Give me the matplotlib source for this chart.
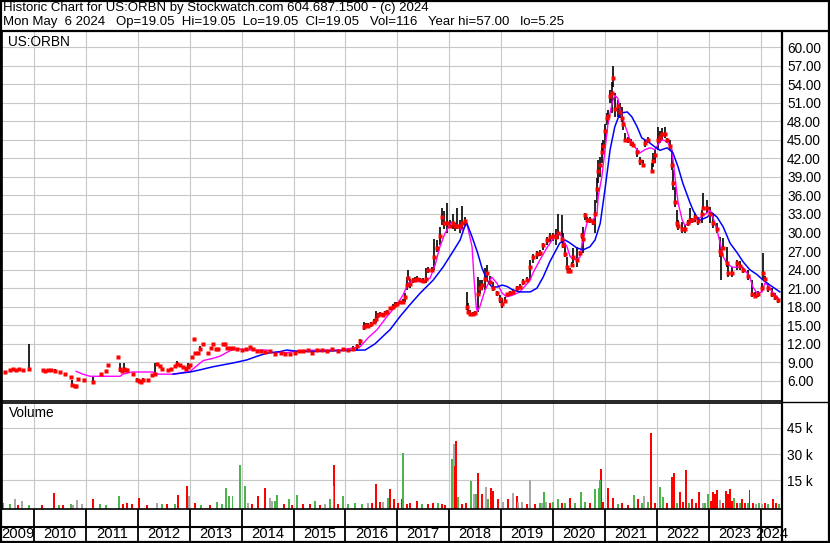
import numpy as np
import matplotlib
matplotlib.use("Agg")
import matplotlib.pyplot as plt
from matplotlib.lines import Line2D


# price bars (decimal year, low, high, close)
price_dates = [
    2009.44, 2009.54, 2009.60, 2009.65, 2009.71, 2009.79, 2009.90, 2010.17, 2010.22, 2010.27,
    2010.33, 2010.40, 2010.50, 2010.60, 2010.71, 2010.73, 2010.78, 2010.81, 2010.85, 2010.96,
    2011.14, 2011.29, 2011.39, 2011.43, 2011.62, 2011.66, 2011.70, 2011.73, 2011.77, 2011.80,
    2011.91, 2011.98, 2012.02, 2012.06, 2012.10, 2012.20, 2012.27, 2012.33, 2012.36, 2012.43,
    2012.47, 2012.58, 2012.64, 2012.72, 2012.76, 2012.81, 2012.87, 2012.93, 2012.97, 2013.00,
    2013.04, 2013.08, 2013.10, 2013.15, 2013.20, 2013.26, 2013.35, 2013.41, 2013.45, 2013.50,
    2013.55, 2013.64, 2013.68, 2013.72, 2013.78, 2013.83, 2013.91, 2014.00, 2014.08, 2014.16,
    2014.22, 2014.30, 2014.38, 2014.45, 2014.55, 2014.65, 2014.75, 2014.84, 2014.93, 2015.02,
    2015.10, 2015.18, 2015.28, 2015.36, 2015.45, 2015.55, 2015.65, 2015.75, 2015.85, 2015.95,
    2016.05, 2016.15, 2016.22, 2016.28, 2016.36, 2016.40, 2016.44, 2016.49, 2016.55, 2016.59,
    2016.63, 2016.67, 2016.72, 2016.76, 2016.81, 2016.86, 2016.91, 2016.96, 2017.00, 2017.05,
    2017.10, 2017.15, 2017.19, 2017.21, 2017.25, 2017.30, 2017.34, 2017.38, 2017.43, 2017.50,
    2017.55, 2017.60, 2017.66, 2017.71, 2017.76, 2017.82, 2017.86, 2017.90, 2017.95, 2018.02,
    2018.07, 2018.12, 2018.15, 2018.21, 2018.25, 2018.30, 2018.34, 2018.36, 2018.40, 2018.45,
    2018.50, 2018.55, 2018.59, 2018.63, 2018.69, 2018.73, 2018.79, 2018.84, 2018.92, 2018.98,
    2019.02, 2019.07, 2019.11, 2019.17, 2019.23, 2019.30, 2019.36, 2019.42, 2019.50, 2019.56,
    2019.61, 2019.69, 2019.75, 2019.81, 2019.88, 2019.94, 2020.00, 2020.05, 2020.10, 2020.17,
    2020.19, 2020.23, 2020.27, 2020.29, 2020.33, 2020.37, 2020.39, 2020.46, 2020.52, 2020.56,
    2020.58, 2020.62, 2020.66, 2020.71, 2020.77, 2020.81, 2020.85, 2020.87, 2020.91, 2020.94,
    2020.96, 2021.00, 2021.04, 2021.06, 2021.10, 2021.14, 2021.16, 2021.19, 2021.25, 2021.29,
    2021.33, 2021.35, 2021.39, 2021.45, 2021.50, 2021.54, 2021.62, 2021.68, 2021.73, 2021.77,
    2021.83, 2021.91, 2021.93, 2021.97, 2022.02, 2022.06, 2022.10, 2022.16, 2022.20, 2022.25,
    2022.29, 2022.31, 2022.35, 2022.39, 2022.41, 2022.49, 2022.54, 2022.60, 2022.64, 2022.68,
    2022.74, 2022.79, 2022.87, 2022.89, 2022.97, 2023.03, 2023.08, 2023.16, 2023.22, 2023.24,
    2023.28, 2023.35, 2023.37, 2023.45, 2023.55, 2023.60, 2023.66, 2023.76, 2023.83, 2023.89,
    2023.95, 2024.03, 2024.05, 2024.08, 2024.14, 2024.22, 2024.28, 2024.34,
]

price_low = [
    7.3, 7.6, 7.8, 7.7, 7.8, 7.7, 7.9, 7.7, 7.5, 7.7,
    7.7, 7.3, 7.3, 6.9, 6.4, 5.2, 5.1, 5.1, 6.1, 6.1,
    5.9, 7.0, 7.5, 8.5, 9.7, 7.5, 7.4, 7.5, 7.6, 7.5,
    7.1, 5.9, 5.7, 5.8, 5.8, 6.0, 6.9, 7.0, 8.4, 8.4,
    7.8, 7.6, 7.9, 8.3, 8.7, 8.5, 8.2, 7.9, 8.0, 8.5,
    9.6, 12.8, 10.4, 10.4, 10.9, 11.8, 10.4, 11.2, 11.9, 11.0,
    11.0, 11.9, 11.9, 11.2, 11.2, 11.3, 11.0, 10.9, 11.0, 11.4,
    11.0, 10.7, 10.7, 10.6, 10.8, 10.2, 10.4, 10.3, 10.2, 10.5,
    10.5, 10.6, 10.8, 10.4, 10.8, 10.9, 10.7, 10.8, 10.6, 10.9,
    10.7, 10.9, 11.0, 11.8, 14.3, 14.6, 14.7, 14.8, 15.2, 15.4,
    16.2, 16.5, 16.4, 16.7, 16.8, 17.4, 17.6, 18.0, 18.2, 18.4,
    18.5, 18.7, 20.7, 22.3, 21.0, 21.8, 22.0, 22.2, 22.0, 21.8,
    21.8, 23.5, 23.6, 24.0, 26.8, 28.0, 31.2, 30.5, 30.0, 30.8,
    30.5, 30.2, 30.5, 30.0, 30.5, 31.0, 17.5, 17.0, 16.7, 16.6,
    16.7, 17.2, 20.0, 20.7, 20.7, 22.3, 21.5, 20.5, 19.8, 18.6,
    17.8, 18.6, 19.6, 19.8, 20.0, 20.5, 20.8, 21.5, 22.0, 22.3,
    25.0, 25.8, 26.2, 27.2, 28.0, 28.5, 28.6, 28.0, 29.0, 28.3,
    27.5, 26.0, 24.0, 23.6, 23.5, 24.5, 25.0, 24.4, 26.2, 29.0,
    26.7, 32.0, 31.7, 31.5, 31.2, 30.0, 34.8, 38.0, 39.0, 41.2,
    42.9, 44.0, 47.4, 47.5, 50.9, 49.3, 53.5, 48.7, 48.7, 48.5,
    47.9, 46.6, 44.6, 44.5, 44.0, 43.8, 42.2, 40.9, 40.6, 43.8,
    44.5, 39.6, 40.6, 41.2, 43.4, 44.5, 45.0, 45.3, 44.5, 43.4,
    40.1, 36.9, 34.1, 30.9, 30.4, 30.0, 30.0, 31.0, 31.5, 31.5,
    31.7, 31.2, 31.5, 33.6, 33.2, 31.5, 30.7, 30.0, 26.0, 22.3,
    27.2, 24.4, 22.8, 22.8, 24.0, 24.0, 23.4, 22.3, 19.6, 19.4,
    19.5, 20.4, 22.3, 22.0, 20.4, 19.6, 19.1, 18.6,
]

price_high = [
    7.6, 7.8, 8.0, 7.9, 8.0, 7.9, 12.0, 7.9, 7.7, 7.9,
    7.9, 7.9, 7.5, 7.3, 6.7, 6.2, 5.3, 5.3, 6.4, 6.3,
    6.7, 7.2, 7.7, 8.7, 9.9, 8.9, 7.8, 8.9, 8.0, 7.9,
    7.3, 6.4, 6.3, 6.2, 6.4, 6.3, 7.1, 8.9, 8.9, 8.6,
    8.0, 7.8, 8.1, 8.5, 9.3, 8.8, 8.5, 8.2, 8.9, 8.8,
    9.9, 12.9, 10.6, 10.6, 11.7, 12.1, 10.6, 11.4, 12.1, 11.2,
    11.2, 12.1, 12.1, 11.5, 11.5, 11.5, 11.4, 11.1, 11.2, 11.6,
    11.2, 10.9, 10.9, 10.8, 11.0, 10.4, 10.6, 10.5, 10.4, 10.7,
    11.0, 10.9, 11.1, 11.0, 11.2, 11.2, 11.0, 11.3, 11.1, 11.3,
    11.3, 11.6, 12.0, 12.8, 15.6, 15.4, 15.3, 15.5, 16.0, 17.3,
    17.0, 17.2, 17.0, 17.3, 17.4, 18.0, 18.4, 18.7, 18.8, 19.0,
    19.3, 20.2, 22.8, 23.9, 22.5, 22.6, 22.8, 22.9, 22.7, 22.6,
    24.3, 24.5, 24.5, 29.0, 28.8, 30.9, 34.0, 33.5, 34.8, 32.0,
    33.0, 31.5, 34.0, 32.0, 34.3, 32.5, 20.4, 18.6, 17.4, 17.2,
    17.3, 22.8, 22.3, 22.3, 24.3, 24.8, 23.0, 22.0, 20.5, 19.9,
    19.4, 19.5, 20.2, 20.6, 20.8, 21.4, 21.6, 22.5, 22.8, 25.6,
    26.5, 27.0, 27.2, 28.3, 29.2, 30.0, 30.0, 30.5, 33.0, 32.8,
    30.0, 28.3, 26.0, 24.2, 24.2, 25.2, 27.5, 27.7, 27.0, 30.0,
    30.9, 33.2, 32.5, 32.5, 32.0, 35.3, 38.8, 41.7, 42.2, 44.5,
    45.0, 47.5, 49.3, 49.8, 53.0, 54.3, 57.0, 52.5, 51.4, 51.0,
    50.3, 48.7, 46.1, 45.5, 45.2, 44.6, 43.7, 42.2, 41.7, 45.0,
    45.5, 41.2, 42.9, 43.4, 47.0, 46.5, 46.9, 47.0, 45.3, 45.0,
    43.4, 40.1, 37.4, 33.6, 32.0, 31.7, 31.2, 32.0, 34.0, 32.4,
    33.2, 32.5, 33.6, 36.4, 35.3, 34.1, 33.2, 31.5, 29.3, 27.2,
    29.1, 27.7, 25.0, 24.4, 25.6, 25.4, 24.4, 24.0, 22.3, 20.4,
    20.5, 21.8, 26.7, 23.0, 21.8, 21.0, 20.2, 19.4,
]

price_close = [
    7.5, 7.7, 7.9, 7.8, 7.9, 7.8, 7.9, 7.8, 7.6, 7.8,
    7.8, 7.6, 7.45, 7.1, 6.6, 5.3, 5.2, 5.2, 6.3, 6.2,
    5.9, 7.1, 7.6, 8.6, 9.8, 8.0, 7.6, 8.0, 7.8, 7.7,
    7.2, 6.2, 6.0, 5.9, 6.2, 6.1, 7.0, 7.2, 8.8, 8.5,
    7.9, 7.7, 8.0, 8.4, 8.8, 8.6, 8.3, 8.0, 8.3, 8.6,
    9.8, 12.85, 10.5, 10.5, 11.1, 12.0, 10.5, 11.3, 12.0, 11.1,
    11.1, 12.0, 12.0, 11.4, 11.4, 11.4, 11.2, 11.0, 11.1, 11.5,
    11.1, 10.8, 10.8, 10.7, 10.9, 10.3, 10.5, 10.4, 10.3, 10.6,
    10.8, 10.8, 11.0, 10.6, 11.0, 11.0, 10.9, 11.1, 10.8, 11.1,
    11.0, 11.2, 11.6, 12.5, 14.8, 15.0, 14.9, 15.2, 15.6, 16.0,
    16.6, 16.9, 16.7, 17.0, 17.1, 17.8, 18.0, 18.3, 18.5, 18.7,
    18.8, 19.6, 21.5, 22.6, 21.6, 22.3, 22.4, 22.5, 22.3, 22.2,
    22.5, 24.0, 24.0, 26.0, 27.5, 29.5, 32.5, 31.5, 31.5, 31.0,
    31.5, 31.0, 31.0, 31.0, 31.5, 31.8, 18.0, 17.2, 16.9, 16.8,
    17.0, 20.0, 21.0, 21.5, 22.5, 23.5, 22.0, 21.0, 20.2, 19.2,
    18.5, 19.0, 20.0, 20.3, 20.4, 21.0, 21.2, 22.0, 22.3, 24.5,
    26.0, 26.5, 26.7, 28.0, 28.8, 29.3, 29.5, 29.2, 30.0, 29.0,
    28.0, 26.5, 24.5, 23.8, 23.8, 24.8, 26.0, 25.5, 26.7, 29.6,
    29.0, 32.8, 32.0, 32.0, 31.7, 33.0, 37.0, 40.0, 41.0, 43.0,
    44.0, 46.5, 48.5, 48.8, 52.0, 52.5, 55.0, 50.0, 50.5, 49.5,
    48.5, 47.5, 45.0, 45.0, 44.5, 44.2, 43.0, 41.5, 41.0, 44.5,
    45.0, 40.0, 41.5, 42.5, 45.0, 45.5, 46.0, 46.0, 45.0, 44.0,
    41.0, 38.0, 35.0, 31.5, 31.0, 30.5, 30.5, 31.5, 32.0, 32.0,
    32.5, 31.8, 33.0, 34.0, 34.0, 33.0, 31.5, 30.5, 27.0, 26.5,
    27.5, 25.0, 23.5, 23.5, 25.0, 24.6, 24.0, 23.0, 20.0, 19.8,
    20.0, 21.0, 23.5, 22.5, 21.0, 20.0, 19.5, 19.05,
]

# short moving average (magenta)
fast_ma_dates = [
    2010.81, 2010.94, 2011.08, 2011.66, 2011.71, 2011.89, 2012.29, 2012.37, 2012.68, 2013.01,
    2013.20, 2013.26, 2013.45, 2013.58, 2013.78, 2013.91, 2014.16, 2014.49, 2014.60, 2014.87,
    2015.13, 2015.51, 2015.90, 2016.28, 2016.44, 2016.61, 2016.80, 2016.99, 2017.11, 2017.21,
    2017.30, 2017.50, 2017.63, 2017.73, 2017.82, 2017.92, 2018.05, 2018.15, 2018.25, 2018.34,
    2018.44, 2018.48, 2018.52, 2018.54, 2018.59, 2018.69, 2018.82, 2018.92, 2019.02, 2019.11,
    2019.23, 2019.36, 2019.56, 2019.61, 2019.75, 2019.88, 2020.00, 2020.13, 2020.19, 2020.27,
    2020.33, 2020.42, 2020.52, 2020.56, 2020.66, 2020.77, 2020.85, 2020.87, 2020.94, 2021.00,
    2021.06, 2021.14, 2021.19, 2021.25, 2021.29, 2021.35, 2021.43, 2021.48, 2021.54, 2021.62,
    2021.68, 2021.77, 2021.87, 2021.97, 2022.02, 2022.10, 2022.20, 2022.29, 2022.35, 2022.41,
    2022.49, 2022.54, 2022.64, 2022.70, 2022.83, 2022.97, 2023.03, 2023.08, 2023.16, 2023.22,
    2023.28, 2023.35, 2023.45, 2023.55, 2023.66, 2023.79, 2023.85, 2023.93, 2024.03, 2024.08,
    2024.14, 2024.24, 2024.34,
]

fast_ma_values = [
    7.56, 7.1, 6.76, 6.76, 7.1, 7.45, 7.45, 7.1, 7.1, 7.56,
    8.9, 9.3, 9.66, 10.0, 10.9, 11.2, 11.0, 11.0, 10.6, 10.6,
    10.9, 11.0, 11.0, 11.5, 13.0, 14.3, 16.4, 18.3, 19.9, 21.8,
    22.3, 22.0, 22.6, 24.8, 27.7, 29.9, 31.7, 31.0, 30.4, 31.5,
    27.7, 22.3, 18.0, 17.2, 18.0, 20.7, 22.8, 21.8, 20.2, 19.6,
    19.9, 20.4, 22.3, 23.4, 25.6, 27.5, 29.0, 29.9, 28.8, 27.7,
    26.1, 25.6, 26.0, 28.3, 31.7, 32.0, 33.2, 35.8, 39.0, 43.3,
    47.7, 51.0, 52.2, 51.7, 49.8, 48.2, 46.3, 45.0, 44.2, 43.4,
    42.9, 43.4, 43.7, 43.4, 44.2, 45.0, 44.7, 43.4, 39.0, 34.8,
    32.0, 31.2, 31.5, 32.0, 32.4, 33.2, 33.6, 32.5, 30.4, 28.3,
    26.1, 25.0, 24.4, 24.4, 24.4, 22.8, 21.2, 20.2, 20.4, 21.8,
    21.5, 20.2, 19.4,
]

# long moving average (blue)
slow_ma_dates = [
    2012.68, 2013.01, 2013.20, 2013.45, 2013.83, 2014.10, 2014.30, 2014.49, 2014.74, 2014.87,
    2015.13, 2015.51, 2015.90, 2016.28, 2016.38, 2016.57, 2016.72, 2016.86, 2017.05, 2017.24,
    2017.44, 2017.69, 2017.88, 2018.07, 2018.21, 2018.30, 2018.34, 2018.44, 2018.54, 2018.63,
    2018.73, 2018.82, 2018.92, 2019.02, 2019.11, 2019.23, 2019.36, 2019.56, 2019.69, 2019.81,
    2019.94, 2020.13, 2020.23, 2020.33, 2020.46, 2020.58, 2020.71, 2020.81, 2020.91, 2021.00,
    2021.10, 2021.19, 2021.29, 2021.43, 2021.52, 2021.62, 2021.71, 2021.83, 2021.97, 2022.06,
    2022.20, 2022.31, 2022.41, 2022.50, 2022.64, 2022.70, 2022.77, 2022.83, 2022.97, 2023.06,
    2023.16, 2023.28, 2023.41, 2023.55, 2023.66, 2023.79, 2023.93, 2024.05, 2024.18, 2024.32,
    2024.37,
]

slow_ma_values = [
    7.1, 7.45, 7.8, 8.3, 8.9, 9.4, 10.0, 10.5, 10.75, 11.0,
    10.75, 10.8, 10.9, 11.0, 11.0, 12.0, 13.2, 14.3, 16.4, 18.3,
    20.2, 22.3, 24.4, 26.9, 28.8, 31.0, 31.5, 29.3, 26.9, 24.3,
    22.3, 21.2, 21.2, 21.5, 21.3, 20.7, 20.4, 20.4, 21.0, 22.8,
    25.3, 28.3, 28.8, 28.3, 27.5, 27.2, 27.7, 28.8, 31.5, 36.9,
    43.4, 47.1, 49.3, 49.5, 48.7, 47.1, 45.3, 44.7, 43.8, 43.3,
    43.7, 42.9, 40.6, 38.0, 34.8, 33.6, 32.5, 32.0, 32.5, 33.2,
    32.5, 30.9, 28.3, 26.7, 25.3, 24.0, 23.2, 22.3, 21.5, 20.7,
    20.4,
]

# volume in thousands, colour: g = up, r = down, n = unchanged
vol_dates = [
    2009.40, 2009.54, 2009.63, 2009.69, 2009.77, 2009.90, 2010.15, 2010.39, 2010.48, 2010.56,
    2010.71, 2010.75, 2010.83, 2010.92, 2011.14, 2011.27, 2011.39, 2011.64, 2011.71, 2011.79,
    2011.89, 2012.02, 2012.18, 2012.37, 2012.47, 2012.56, 2012.72, 2012.77, 2012.95, 2012.99,
    2013.10, 2013.22, 2013.39, 2013.53, 2013.62, 2013.70, 2013.76, 2013.82, 2013.97, 2014.07,
    2014.12, 2014.20, 2014.32, 2014.45, 2014.55, 2014.59, 2014.64, 2014.68, 2014.82, 2014.91,
    2014.97, 2015.07, 2015.18, 2015.32, 2015.41, 2015.51, 2015.61, 2015.70, 2015.78, 2015.77,
    2015.86, 2015.95, 2016.05, 2016.18, 2016.32, 2016.44, 2016.51, 2016.59, 2016.67, 2016.72,
    2016.82, 2016.86, 2016.94, 2017.01, 2017.09, 2017.11, 2017.19, 2017.24, 2017.38, 2017.48,
    2017.59, 2017.69, 2017.78, 2017.86, 2017.92, 2018.05, 2018.09, 2018.13, 2018.11, 2018.17,
    2018.25, 2018.32, 2018.42, 2018.48, 2018.52, 2018.55, 2018.63, 2018.71, 2018.75, 2018.81,
    2018.84, 2018.94, 2019.04, 2019.13, 2019.23, 2019.31, 2019.33, 2019.40, 2019.50, 2019.56,
    2019.65, 2019.75, 2019.79, 2019.83, 2019.87, 2019.94, 2020.00, 2020.10, 2020.17, 2020.23,
    2020.33, 2020.42, 2020.54, 2020.62, 2020.71, 2020.81, 2020.89, 2020.92, 2020.91, 2020.96,
    2021.06, 2021.16, 2021.25, 2021.33, 2021.45, 2021.56, 2021.64, 2021.71, 2021.75, 2021.83,
    2021.89, 2021.97, 2022.06, 2022.12, 2022.20, 2022.29, 2022.33, 2022.39, 2022.45, 2022.50,
    2022.56, 2022.62, 2022.68, 2022.76, 2022.81, 2022.89, 2022.93, 2022.99, 2023.04, 2023.08,
    2023.12, 2023.16, 2023.22, 2023.28, 2023.33, 2023.37, 2023.41, 2023.45, 2023.49, 2023.55,
    2023.60, 2023.64, 2023.70, 2023.76, 2023.79, 2023.85, 2023.91, 2023.97, 2024.03, 2024.08,
    2024.14, 2024.24, 2024.30, 2024.35,
]

vol_values = [
    2.0, 1.0, 4.0, 0.8, 2.9, 0.6, 0.6, 7.3, 0.6, 0.8,
    1.2, 0.8, 3.5, 1.0, 4.0, 1.0, 0.5, 5.6, 1.2, 1.8,
    1.0, 4.6, 0.8, 1.5, 1.0, 1.0, 1.2, 6.2, 11.5, 5.6,
    1.5, 0.6, 0.5, 2.3, 1.0, 10.2, 5.6, 5.6, 23.7, 11.5,
    1.5, 1.0, 5.6, 10.4, 4.6, 3.0, 2.9, 6.3, 1.0, 3.8,
    0.8, 6.3, 1.4, 1.0, 2.9, 0.8, 1.0, 3.8, 23.7, 11.5,
    1.0, 5.6, 1.0, 1.5, 1.2, 1.5, 2.0, 12.7, 2.5, 2.5,
    4.6, 9.8, 3.8, 2.0, 4.0, 30.8, 1.2, 1.5, 2.9, 1.0,
    1.0, 1.5, 1.5, 1.0, 0.8, 27.0, 35.6, 37.5, 23.0, 5.4,
    1.2, 1.5, 14.4, 6.7, 7.0, 19.2, 6.9, 10.8, 4.0, 10.2,
    8.7, 3.8, 2.5, 3.8, 7.3, 5.8, 2.5, 2.5, 1.0, 14.8,
    1.0, 1.5, 2.0, 7.9, 2.5, 1.5, 2.5, 3.8, 1.5, 2.0,
    4.8, 1.5, 7.9, 2.5, 1.5, 9.6, 10.2, 21.1, 15.0, 2.5,
    10.2, 4.6, 1.0, 1.5, 0.8, 6.3, 3.8, 1.5, 5.8, 2.5,
    42.3, 1.5, 10.8, 5.4, 1.5, 16.9, 19.2, 2.0, 7.9, 2.5,
    20.8, 2.0, 4.0, 1.5, 8.1, 2.0, 1.5, 6.7, 3.0, 7.9,
    6.7, 9.2, 3.5, 2.0, 8.7, 6.7, 9.6, 3.0, 4.8, 2.0,
    1.5, 4.2, 1.5, 1.5, 9.2, 2.0, 1.0, 1.5, 1.0, 1.5,
    1.0, 3.8, 1.5, 1.0,
]

vol_colors = [
    "g", "g", "n", "r", "n", "g", "r", "r", "g", "r",
    "g", "n", "n", "n", "r", "g", "g", "g", "r", "r",
    "r", "r", "r", "n", "g", "r", "g", "r", "r", "n",
    "r", "g", "r", "g", "g", "g", "g", "g", "g", "g",
    "n", "r", "r", "r", "n", "n", "g", "g", "r", "g",
    "r", "g", "r", "r", "g", "r", "n", "g", "r", "g",
    "r", "g", "g", "g", "g", "n", "r", "r", "r", "n",
    "g", "r", "r", "r", "r", "g", "r", "r", "r", "g",
    "r", "r", "g", "r", "r", "g", "n", "r", "r", "g",
    "r", "r", "g", "n", "g", "r", "r", "n", "g", "r",
    "r", "r", "n", "r", "n", "r", "n", "n", "r", "n",
    "r", "g", "n", "g", "n", "r", "g", "g", "r", "g",
    "r", "g", "g", "g", "r", "g", "g", "r", "g", "r",
    "r", "r", "g", "r", "r", "g", "r", "g", "n", "g",
    "r", "r", "g", "g", "r", "r", "r", "g", "r", "r",
    "r", "g", "r", "r", "r", "n", "g", "g", "r", "r",
    "r", "r", "n", "r", "r", "r", "r", "r", "g", "r",
    "g", "r", "r", "g", "r", "r", "n", "g", "n", "r",
    "g", "r", "r", "g",
]

year_ticks = list(range(2010, 2025))
year_labels = [str(y) for y in range(2009, 2025)]

price_ticks = np.arange(6, 61, 3)
volume_ticks = [15, 30, 45]

header_line_1 = "Historic Chart for US:ORBN by Stockwatch.com 604.687.1500 - (c) 2024"
header_line_2 = ("Mon May  6 2024   Op=19.05  Hi=19.05  Lo=19.05  Cl=19.05   "
                 "Vol=116   Year hi=57.00   lo=5.25")

fig_w = 830
fig_h = 543
date_min = 2009.383
date_max = 2024.412
grid_color = "#c8c8c8"
font_name = "Liberation Sans"
font_size = 9.8
header_size = 9.5
bar_colors = {"g": "#4cb44c", "r": "#ff0000", "n": "#a8a8a8"}


def px_box(x0, y0, x1, y1):
    # pixel rectangle (top-left origin) -> figure fraction box
    return [x0 / fig_w, 1 - y1 / fig_h, (x1 - x0) / fig_w, (y1 - y0) / fig_h]


def fig_line(fig, x0, y0, x1, y1, lw=1.5):
    fig.add_artist(
        Line2D(
            [x0 / fig_w, x1 / fig_w],
            [1 - y0 / fig_h, 1 - y1 / fig_h],
            transform=fig.transFigure,
            color="black",
            lw=lw,
            solid_capstyle="butt",
        )
    )


def style_panel(ax):
    ax.set_xlim(date_min, date_max)
    ax.set_xticks(year_ticks)
    ax.grid(True, color=grid_color, lw=0.8)
    ax.set_axisbelow(True)
    ax.tick_params(axis="x", length=0, labelbottom=False)
    ax.tick_params(
        axis="y",
        length=0,
        left=False,
        labelleft=False,
        right=True,
        labelright=True,
        pad=3.6,
        labelsize=font_size,
    )
    for spine in ax.spines.values():
        spine.set_color("black")
        spine.set_linewidth(1.2)


def main():
    plt.rcParams["font.family"] = [font_name, "DejaVu Sans"]

    fig = plt.figure(figsize=(fig_w / 100, fig_h / 100), dpi=100)
    fig.patch.set_facecolor("white")

    # price panel
    ax_p = fig.add_axes(px_box(2, 31, 782, 401))
    style_panel(ax_p)
    ax_p.set_ylim(2.76, 62.59)
    ax_p.set_yticks(price_ticks)
    ax_p.set_yticklabels(["%.2f" % v for v in price_ticks])

    ax_p.vlines(price_dates, price_low, price_high, color="black", lw=1.2)
    ax_p.plot(fast_ma_dates, fast_ma_values, color="#ff00ff", lw=1.0)
    ax_p.plot(slow_ma_dates, slow_ma_values, color="#0000ff", lw=1.1)
    ax_p.plot(price_dates, price_close, "s", color="red", ms=2.5, mec="none")

    ax_p.text(
        6 / 780, 1 - 11 / 370, "US:ORBN",
        transform=ax_p.transAxes, fontsize=font_size, va="center", ha="left",
    )

    # volume panel
    ax_v = fig.add_axes(px_box(2, 403, 782, 509))
    style_panel(ax_v)
    vol_floor = -1.7
    ax_v.set_ylim(vol_floor, 59.4)
    ax_v.set_yticks(volume_ticks)
    ax_v.set_yticklabels(["%d k" % v for v in volume_ticks])

    vals = np.array(vol_values)
    ax_v.bar(
        vol_dates,
        vals - vol_floor,
        bottom=vol_floor,
        width=0.03,
        color=[bar_colors[c] for c in vol_colors],
        lw=0,
    )

    ax_v.text(
        7 / 780, 1 - 10 / 106, "Volume",
        transform=ax_v.transAxes, fontsize=font_size, va="center", ha="left",
    )

    # year band under the volume panel
    ax_y = fig.add_axes(px_box(2, 509, 782, 542))
    ax_y.set_xlim(date_min, date_max)
    ax_y.set_ylim(0, 1)
    ax_y.axis("off")
    ax_y.vlines(year_ticks, 0, 1, color="black", lw=1.3)
    ax_y.axhline(15 / 33, color="black", lw=1.5)
    edges = [date_min] + year_ticks + [date_max]
    for i, label in enumerate(year_labels):
        mid = (edges[i] + edges[i + 1]) / 2
        ax_y.text(
            mid, 7.5 / 33, label,
            ha="center", va="center", fontsize=10.6,
        )

    # header
    fig.text(3 / fig_w, 1 - 8 / fig_h, header_line_1,
             fontsize=header_size, va="center", ha="left")
    fig.text(3 / fig_w, 1 - 22 / fig_h, header_line_2,
             fontsize=header_size, va="center", ha="left")

    # frame lines
    fig_line(fig, 0, 31, 830, 31, lw=1.6)
    fig_line(fig, 782, 31, 782, 543, lw=1.6)
    fig_line(fig, 782, 401.5, 830, 401.5, lw=1.0)
    fig_line(fig, 1, 0, 1, 543, lw=1.6)
    fig_line(fig, 829, 0, 829, 543, lw=1.6)
    fig_line(fig, 0, 1, 830, 1, lw=1.6)
    fig_line(fig, 0, 542, 830, 542, lw=1.6)

    fig.savefig("out.png", dpi=100)


if __name__ == "__main__":

    main()
